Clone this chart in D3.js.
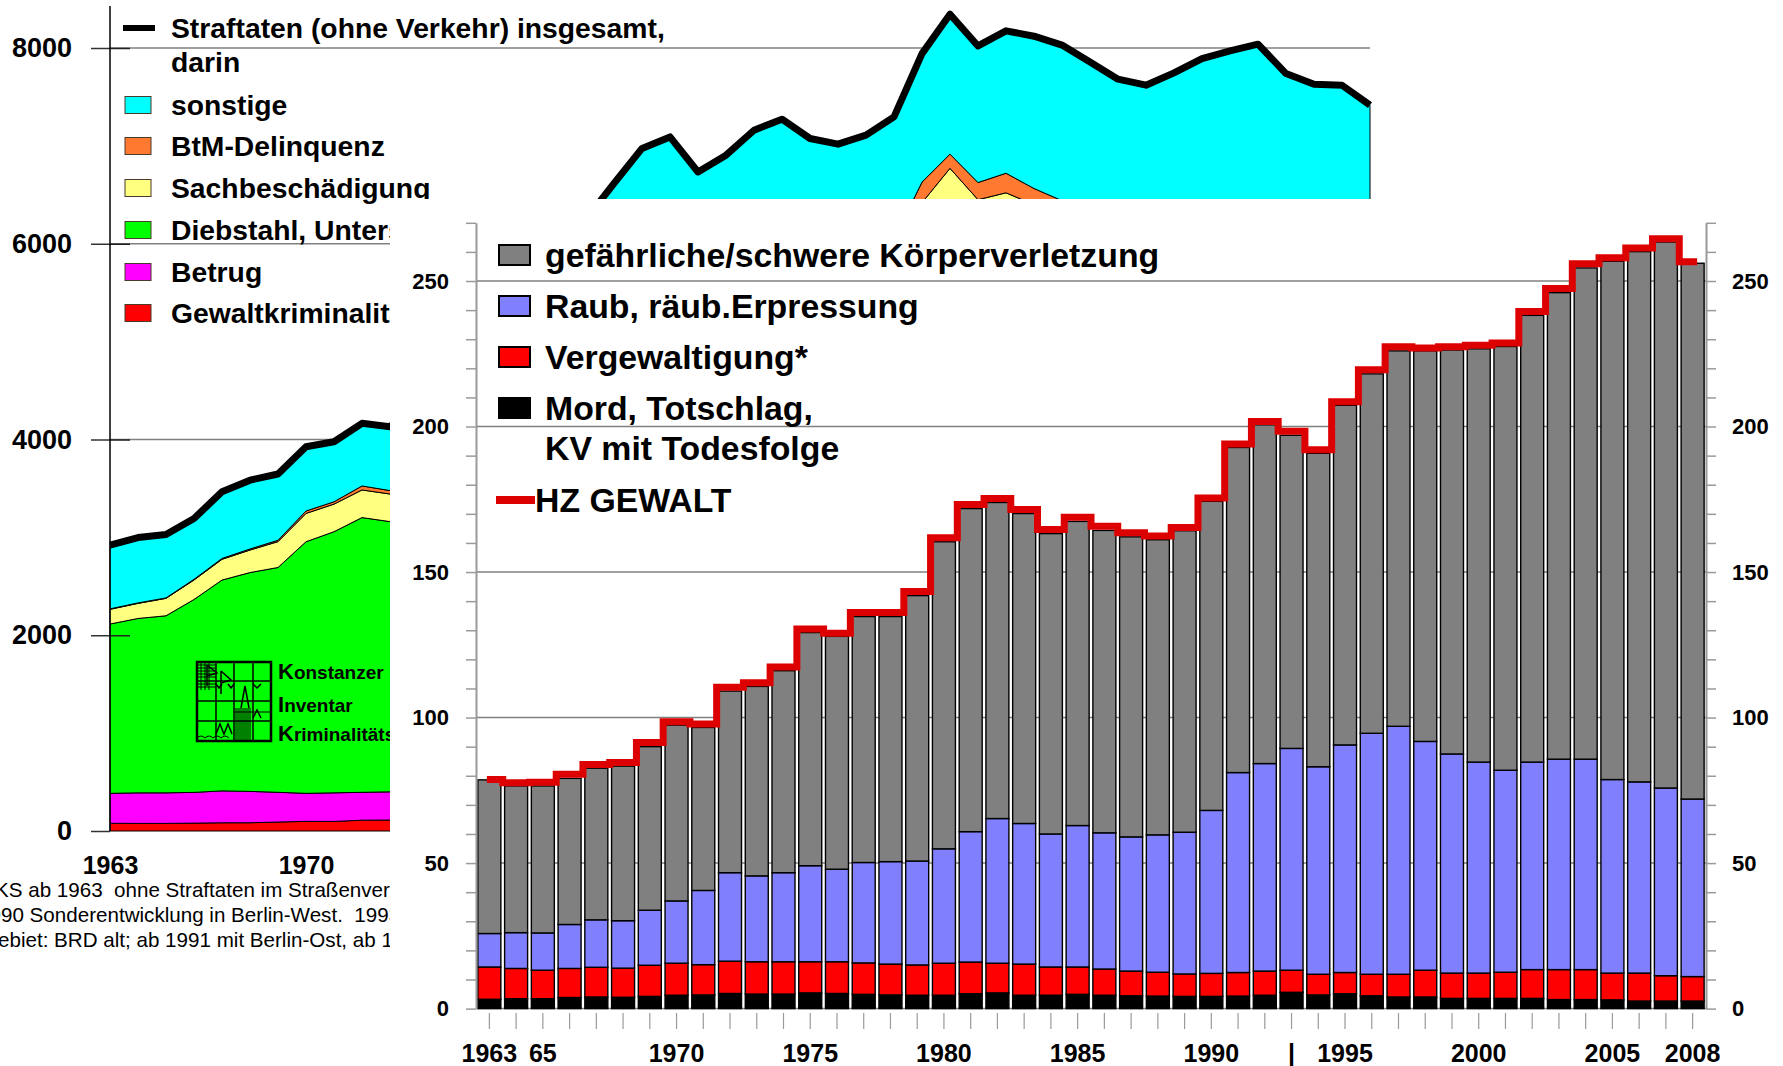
<!DOCTYPE html>
<html>
<head>
<meta charset="utf-8">
<script src="https://cdn.jsdelivr.net/npm/d3@7/dist/d3.min.js"></script>
<style>
  body { margin: 0; background: #fff; }
  svg { display: block; font-family: "Liberation Sans", Arial, sans-serif; }
</style>
</head>
<body>
<svg id="chart" width="1783" height="1066"></svg>
<script>
var years = [1963, 1964, 1965, 1966, 1967, 1968, 1969, 1970, 1971, 1972,
             1973, 1974, 1975, 1976, 1977, 1978, 1979, 1980, 1981, 1982,
             1983, 1984, 1985, 1986, 1987, 1988, 1989, 1990, 1991, 1992,
             1993, 1994, 1995, 1996, 1997, 1998, 1999, 2000, 2001, 2002,
             2003, 2004, 2005, 2006, 2007, 2008];

// HZ Gewaltkriminalitaet (red step line, also the red layer behind)
var hzGewalt = [78.7, 77.6, 77.8, 80.5, 83.9, 84.6, 91.4, 98.6, 97.8, 110.4,
                112.0, 117.4, 130.4, 129.0, 136.1, 136.1, 143.3, 161.8, 173.2, 175.3,
                171.5, 164.6, 168.8, 165.7, 163.5, 162.4, 165.3, 175.4, 194.0, 201.7,
                198.4, 192.0, 208.5, 219.5, 227.4, 227.0, 227.4, 227.9, 228.7, 239.5,
                247.4, 255.9, 258.0, 261.3, 264.5, 256.6];

// bar stacks (per 100.000)
var mord = [3.2, 3.4, 3.4, 3.8, 4.0, 3.9, 4.2, 4.6, 4.7, 5.2,
            5.0, 5.0, 5.4, 5.2, 4.9, 4.7, 4.6, 4.6, 5.1, 5.4,
            4.6, 4.6, 4.9, 4.6, 4.4, 4.3, 4.2, 4.2, 4.3, 4.6,
            5.6, 4.7, 5.1, 4.4, 4.0, 4.0, 3.5, 3.5, 3.5, 3.5,
            3.1, 3.1, 3.0, 2.6, 2.6, 2.6];
var vergewaltigung = [11.1, 10.4, 9.8, 10.0, 10.2, 10.0, 10.7, 11.0, 10.4, 11.1,
                      11.1, 11.1, 10.7, 10.9, 10.8, 10.6, 10.4, 11.0, 10.9, 10.2,
                      10.7, 9.7, 9.4, 9.0, 8.5, 8.2, 7.7, 7.9, 8.1, 8.3,
                      7.6, 7.1, 7.3, 7.4, 7.8, 9.2, 8.7, 8.7, 9.0, 9.9,
                      10.3, 10.3, 9.2, 9.6, 8.7, 8.4];
var raub = [11.5, 12.3, 12.8, 15.1, 16.3, 16.3, 18.9, 21.4, 25.5, 30.4,
            29.5, 30.6, 33.0, 31.8, 34.5, 35.2, 35.7, 39.3, 44.8, 49.7,
            48.3, 45.7, 48.6, 46.8, 46.1, 47.2, 48.7, 56.0, 68.7, 71.3,
            76.2, 71.3, 78.2, 82.8, 85.2, 78.6, 75.3, 72.5, 69.4, 71.3,
            72.3, 72.3, 66.5, 65.7, 64.5, 61.0];
var koerperverl = [52.8, 50.4, 50.5, 50.2, 52.1, 53.1, 56.2, 60.4, 56.0, 62.4,
                   65.1, 69.4, 80.1, 80.0, 84.5, 84.2, 91.2, 105.5, 111.0, 108.6,
                   106.5, 103.2, 104.5, 103.9, 103.1, 101.4, 103.6, 106.2, 111.7, 116.4,
                   107.6, 107.7, 116.7, 123.5, 129.0, 134.2, 138.8, 142.0, 145.6, 153.5,
                   160.3, 168.8, 178.1, 182.2, 187.6, 184.1];

// background chart: Straftaten ohne Verkehr (HZ), layers above Gewalt
var betrug = [306, 312, 312, 314, 326, 320, 304, 286, 292, 285,
              288, 290, 310, 330, 350, 380, 410, 450, 480, 520,
              550, 560, 600, 620, 640, 650, 660, 690, 720, 760,
              800, 840, 860, 880, 920, 980, 1000, 1050, 1100, 1120,
              1200, 1300, 1240, 1200, 1100, 1050];
var diebstahl = [1730, 1782, 1809, 1971, 2154, 2236, 2297, 2571, 2668, 2807,
                 2761, 2890, 3080, 3130, 3330, 3450, 3550, 3900, 4100, 4250,
                 4200, 3950, 3980, 4080, 4050, 3950, 3950, 4000, 4250, 4638,
                 4922, 4598, 4652, 4520, 4333, 4100, 3900, 3750, 3750, 3800,
                 3700, 3550, 3350, 3200, 3100, 2950];
var sachbesch = [150, 154, 178, 199, 212, 230, 264, 289, 282, 282,
                 282, 285, 300, 310, 330, 360, 400, 450, 500, 530,
                 560, 580, 600, 620, 640, 650, 660, 690, 720, 820,
                 850, 820, 800, 780, 770, 760, 740, 740, 760, 780,
                 790, 790, 760, 730, 740, 740];
var btm = [5, 5, 5, 7, 9, 11, 14, 25, 24, 41,
           35, 40, 45, 45, 50, 60, 80, 100, 110, 105,
           100, 100, 110, 120, 130, 130, 140, 150, 165, 210,
           145, 175, 200, 165, 190, 190, 180, 175, 180, 170,
           155, 160, 150, 145, 140, 145];
var sonstige = [651, 668, 648, 621, 681, 703, 677, 656, 613, 640,
                652, 778, 835, 906, 954, 1014, 1067, 1188, 1254, 1394,
                1510, 1379, 1446, 1554, 1649, 1533, 1442, 1404, 1247, 1313,
                1430, 1396, 1455, 1556, 1589, 1601, 1634, 1677, 1727, 1782,
                1878, 1983, 1981, 2094, 2275, 2274];

var bgTicks = [0, 2000, 4000, 6000, 8000];
var barTicks = [0, 50, 100, 150, 200, 250];
var barYearLabels = [[1963, "1963"], [1965, "65"], [1970, "1970"], [1975, "1975"],
                     [1980, "1980"], [1985, "1985"], [1990, "1990"], [1993, "|"],
                     [1995, "1995"], [2000, "2000"], [2005, "2005"], [2008, "2008"]];

var svg = d3.select("#chart");

// ---------------- background chart (partly covered) ----------------
svg.append("clipPath").attr("id", "bgclip")
  .append("path").attr("d", "M0,0H1783V199H390V1066H0Z");

var bg = svg.append("g").attr("clip-path", "url(#bgclip)");

var xa = d3.scaleLinear().domain([1963, 2008]).range([110, 1370]),
    ya = d3.scaleLinear().domain([0, 8000]).range([831, 48]);

var bgRows = years.map(function(yr, i) {
  return {year: yr, gewalt: hzGewalt[i], betrug: betrug[i], diebstahl: diebstahl[i],
          sach: sachbesch[i], btm: btm[i], sonstige: sonstige[i]};
});
var bgKeys = ["gewalt", "betrug", "diebstahl", "sach", "btm", "sonstige"];
var bgColor = {gewalt: "#ff0000", betrug: "#ff00ff", diebstahl: "#00ff00",
               sach: "#ffff80", btm: "#ff7a30", sonstige: "#00ffff"};
var layers = d3.stack().keys(bgKeys)(bgRows);

// gridlines
bg.selectAll(".grid")
    .data(bgTicks.slice(1))
  .enter().append("line")
    .attr("x1", 110).attr("x2", 1370)
    .attr("y1", function(d) { return ya(d); })
    .attr("y2", function(d) { return ya(d); })
    .style("stroke", "#808080").style("stroke-width", 1.5);

var area = d3.area()
    .x(function(d) { return xa(d.data.year); })
    .y0(function(d) { return ya(d[0]); })
    .y1(function(d) { return ya(d[1]); });

bg.selectAll(".layer")
    .data(layers)
  .enter().append("path")
    .attr("d", area)
    .style("fill", function(d) { return bgColor[d.key]; })
    .style("stroke", "#000").style("stroke-width", 1);

// total line = top of the stack
bg.append("path")
    .datum(layers[layers.length - 1])
    .attr("d", d3.line()
      .x(function(d) { return xa(d.data.year); })
      .y(function(d) { return ya(d[1]); }))
    .style("fill", "none").style("stroke", "#000")
    .style("stroke-width", 7).style("stroke-linejoin", "round");

// y axis with labels
bg.append("g")
    .attr("transform", "translate(110,0)")
    .call(d3.axisLeft(ya).tickValues(bgTicks).tickFormat(d3.format("d"))
      .tickSize(19).tickSizeOuter(0).tickPadding(19))
    .call(function(g) {
      g.select(".domain").remove();
      g.selectAll("line").style("stroke", "#333").style("stroke-width", 1.5);
      g.selectAll("text").style("font-size", "27px").style("font-weight", "bold").style("fill", "#000");
    });
bg.append("g")
    .attr("transform", "translate(110,0)")
    .call(d3.axisRight(ya).tickValues(bgTicks.slice(1)).tickSize(20).tickFormat(""))
    .call(function(g) {
      g.select(".domain").remove();
      g.selectAll("line").style("stroke", "#222").style("stroke-width", 1.5);
    });
bg.append("line")
    .attr("x1", 110).attr("x2", 110).attr("y1", 6).attr("y2", 831)
    .style("stroke", "#000").style("stroke-width", 1.5);

bg.append("g")
    .attr("transform", "translate(0,831)")
    .call(d3.axisBottom(xa).tickValues([1963, 1970]).tickFormat(d3.format("d")).tickSize(0).tickPadding(25))
    .call(function(g) {
      g.select(".domain").remove();
      g.selectAll("text").style("font-size", "25px").style("font-weight", "bold").style("fill", "#000");
    });

// legend
var bgLegend = [
  {key: "sonstige", label: "sonstige", y: 105},
  {key: "btm", label: "BtM-Delinquenz", y: 146},
  {key: "sach", label: "Sachbeschädigung", y: 188},
  {key: "diebstahl", label: "Diebstahl, Unterschlagung", y: 230},
  {key: "betrug", label: "Betrug", y: 272},
  {key: "gewalt", label: "Gewaltkriminalität", y: 313}
];
bg.append("line")
    .attr("x1", 123).attr("x2", 155).attr("y1", 28).attr("y2", 28)
    .style("stroke", "#000").style("stroke-width", 6);
bg.append("text").attr("x", 171).attr("y", 28).attr("dy", ".35em")
    .style("font-size", "28.3px").style("font-weight", "bold")
    .text("Straftaten (ohne Verkehr) insgesamt,");
bg.append("text").attr("x", 171).attr("y", 62).attr("dy", ".35em")
    .style("font-size", "28.3px").style("font-weight", "bold")
    .text("darin");
var li = bg.selectAll(".bglegend")
    .data(bgLegend)
  .enter().append("g")
    .attr("transform", function(d) { return "translate(0," + d.y + ")"; });
li.append("rect")
    .attr("x", 125).attr("y", -8.5).attr("width", 26).attr("height", 17)
    .style("fill", function(d) { return bgColor[d.key]; })
    .style("stroke", "#4a3a2a").style("stroke-width", 1);
li.append("text")
    .attr("x", 171).attr("dy", ".35em")
    .style("font-size", "28.3px").style("font-weight", "bold")
    .text(function(d) { return d.label; });

// KIK logo
var logo = bg.append("g").attr("transform", "translate(197,662)")
    .style("fill", "none").style("stroke", "#000").style("stroke-width", 1.5);
logo.append("rect").attr("width", 74).attr("height", 79).style("stroke-width", 2.5);
[19, 37, 56].forEach(function(x) {
  logo.append("line").attr("x1", x).attr("x2", x).attr("y1", 0).attr("y2", 79);
});
[19, 39, 59].forEach(function(y) {
  logo.append("line").attr("x1", 0).attr("x2", 74).attr("y1", y).attr("y2", y);
});
[3, 6, 9, 12, 15, 22, 25].forEach(function(y) {
  logo.append("line").attr("x1", 0).attr("x2", 19).attr("y1", y).attr("y2", y).style("stroke-width", 1);
});
[4, 8, 12].forEach(function(x) {
  logo.append("line").attr("x1", x).attr("x2", x).attr("y1", 0).attr("y2", 28).style("stroke-width", 1);
});
logo.append("path").attr("d", "M10,3V24M10,3L20,11L10,14M24,9V32M24,9L34,18L24,21");
logo.append("path").attr("d", "M19,22l3,4l3,-4M31,22l3,4l3,-4M56,22l4,4l4,-4");
logo.append("path").attr("d", "M44,46L48,24L52,46");
[39, 41, 43, 45, 47, 49, 51, 53].forEach(function(x) {
  logo.append("line").attr("x1", x).attr("x2", x).attr("y1", 46).attr("y2", 79).style("stroke-width", 1);
});
logo.append("line").attr("x1", 37).attr("x2", 74).attr("y1", 50).attr("y2", 50).style("stroke-width", 1);
logo.append("path").attr("d", "M19,72L23,62L27,72L31,62L35,72M56,56L60,48L64,56");
logo.append("path").attr("d", "M0,76q4,-4 8,0q4,-4 8,0q4,-4 8,0q4,-4 8,0").style("stroke-width", 1);
var logoText = bg.append("g").style("font-weight", "bold");
[["K", "onstanzer", 679], ["I", "nventar", 712], ["K", "riminalitäts", 741]].forEach(function(t) {
  var tx = logoText.append("text").attr("x", 278).attr("y", t[2]);
  tx.append("tspan").style("font-size", "22px").text(t[0]);
  tx.append("tspan").style("font-size", "19px").text(t[1]);
});

// footnotes (left part is cut off on the original)
var notes = [
  {pre: "P", off: -5, text: "PKS ab 1963  ohne Straftaten im Straßenverkehr", y: 897},
  {pre: "bis 19", off: 1, text: "bis 1990 Sonderentwicklung in Berlin-West.  1993", y: 922},
  {pre: "G", off: -2, text: "Gebiet: BRD alt; ab 1991 mit Berlin-Ost, ab 1993", y: 947}
];
notes.forEach(function(n) {
  var probe = bg.append("text").style("font-size", "20.6px").style("white-space", "pre").text(n.pre);
  var w = probe.node().getComputedTextLength();
  probe.remove();
  bg.append("text")
      .attr("x", n.off - w).attr("y", n.y)
      .style("font-size", "20.6px").style("white-space", "pre")
      .text(n.text);
});

// ---------------- front chart: Gewaltkriminalitaet ----------------
var fg = svg.append("g");

var xb = d3.scaleBand().domain(years).range([476, 1706]).paddingInner(0.14).paddingOuter(0.07),
    yb = d3.scaleLinear().domain([0, 270]).range([1008.6, 222.8]);

var barRows = years.map(function(yr, i) {
  return {year: yr, mord: mord[i], verg: vergewaltigung[i], raub: raub[i], kv: koerperverl[i]};
});
var barKeys = ["mord", "verg", "raub", "kv"];
var barColor = {mord: "#000000", verg: "#ff0000", raub: "#8080ff", kv: "#808080"};

fg.selectAll(".bgrid")
    .data(barTicks.slice(1))
  .enter().append("line")
    .attr("x1", 476).attr("x2", 1706)
    .attr("y1", function(d) { return yb(d); })
    .attr("y2", function(d) { return yb(d); })
    .style("stroke", "#808080").style("stroke-width", 1.5);
fg.append("line")
    .attr("x1", 476).attr("x2", 1706).attr("y1", yb(0)).attr("y2", yb(0))
    .style("stroke", "#808080").style("stroke-width", 1.5);

fg.selectAll(".serie")
    .data(d3.stack().keys(barKeys)(barRows))
  .enter().append("g")
    .style("fill", function(d) { return barColor[d.key]; })
  .selectAll("rect")
    .data(function(d) { return d; })
  .enter().append("rect")
    .attr("x", function(d) { return xb(d.data.year); })
    .attr("y", function(d) { return yb(d[1]); })
    .attr("width", xb.bandwidth())
    .attr("height", function(d) { return yb(d[0]) - yb(d[1]); })
    .style("stroke", "#000").style("stroke-width", 1.4);

// HZ step line
var half = (xb.step() - xb.bandwidth()) / 2, steps = [];
years.forEach(function(yr, i) {
  var x0 = i === 0 ? xb(yr) + 9 : xb(yr) - half,
      x1 = i === years.length - 1 ? xb(yr) + xb.bandwidth() - 7 : xb(yr) + xb.bandwidth() + half;
  steps.push([x0, yb(hzGewalt[i])], [x1, yb(hzGewalt[i])]);
});
fg.append("path")
    .attr("d", d3.line()(steps))
    .style("fill", "none").style("stroke", "#dd0000")
    .style("stroke-width", 7).style("stroke-linejoin", "miter");

// axes
function styleAxis(g) {
  g.select(".domain").style("stroke", "#9a9a9a").style("stroke-width", 2);
  g.selectAll("line").style("stroke", "#9a9a9a").style("stroke-width", 1.5);
  g.selectAll("text").style("font-size", "22px").style("font-weight", "bold").style("fill", "#000");
}
var minor = d3.range(0, 271, 10);
fg.append("g").attr("transform", "translate(476,0)")
    .call(d3.axisLeft(yb).tickValues(minor).tickSize(10).tickSizeOuter(0).tickFormat(""))
    .call(styleAxis);
fg.append("g").attr("transform", "translate(476,0)")
    .call(d3.axisLeft(yb).tickValues(barTicks).tickSize(0).tickPadding(27))
    .call(function(g) { g.select(".domain").remove(); styleAxis(g); });
fg.append("g").attr("transform", "translate(1706,0)")
    .call(d3.axisRight(yb).tickValues(minor).tickSize(10).tickSizeOuter(0).tickFormat(""))
    .call(styleAxis);
fg.append("g").attr("transform", "translate(1706,0)")
    .call(d3.axisRight(yb).tickValues(barTicks).tickSize(0).tickPadding(26))
    .call(function(g) { g.select(".domain").remove(); styleAxis(g); });

fg.append("g").attr("transform", "translate(0,1013)")
    .call(d3.axisBottom(xb).tickSize(16).tickFormat(""))
    .call(function(g) {
      g.select(".domain").remove();
      g.selectAll("line").style("stroke", "#9a9a9a").style("stroke-width", 1.2);
    });
fg.selectAll(".ylabel")
    .data(barYearLabels)
  .enter().append("text")
    .attr("x", function(d) { return xb(d[0]) + xb.bandwidth() / 2; })
    .attr("y", 1062)
    .attr("text-anchor", "middle")
    .style("font-size", "25px").style("font-weight", "bold")
    .text(function(d) { return d[1]; });

// legend
var fgLegend = [
  {key: "kv", label: "gefährliche/schwere Körperverletzung", y: 255},
  {key: "raub", label: "Raub, räub.Erpressung", y: 306},
  {key: "verg", label: "Vergewaltigung*", y: 357},
  {key: "mord", label: "Mord, Totschlag,", y: 408}
];
var fl = fg.selectAll(".fglegend")
    .data(fgLegend)
  .enter().append("g")
    .attr("transform", function(d) { return "translate(0," + d.y + ")"; });
fl.append("rect")
    .attr("x", 499).attr("y", -10).attr("width", 31).attr("height", 20)
    .style("fill", function(d) { return barColor[d.key]; })
    .style("stroke", "#000").style("stroke-width", 2);
fl.append("text")
    .attr("x", 545).attr("dy", ".35em")
    .style("font-size", "33.8px").style("font-weight", "bold")
    .text(function(d) { return d.label; });
fg.append("text").attr("x", 545).attr("y", 448).attr("dy", ".35em")
    .style("font-size", "33.8px").style("font-weight", "bold")
    .text("KV mit Todesfolge");
fg.append("line")
    .attr("x1", 496).attr("x2", 535).attr("y1", 500).attr("y2", 500)
    .style("stroke", "#dd0000").style("stroke-width", 8);
fg.append("text").attr("x", 535).attr("y", 500).attr("dy", ".35em")
    .style("font-size", "33.8px").style("font-weight", "bold")
    .text("HZ GEWALT");
</script>
</body>
</html>
